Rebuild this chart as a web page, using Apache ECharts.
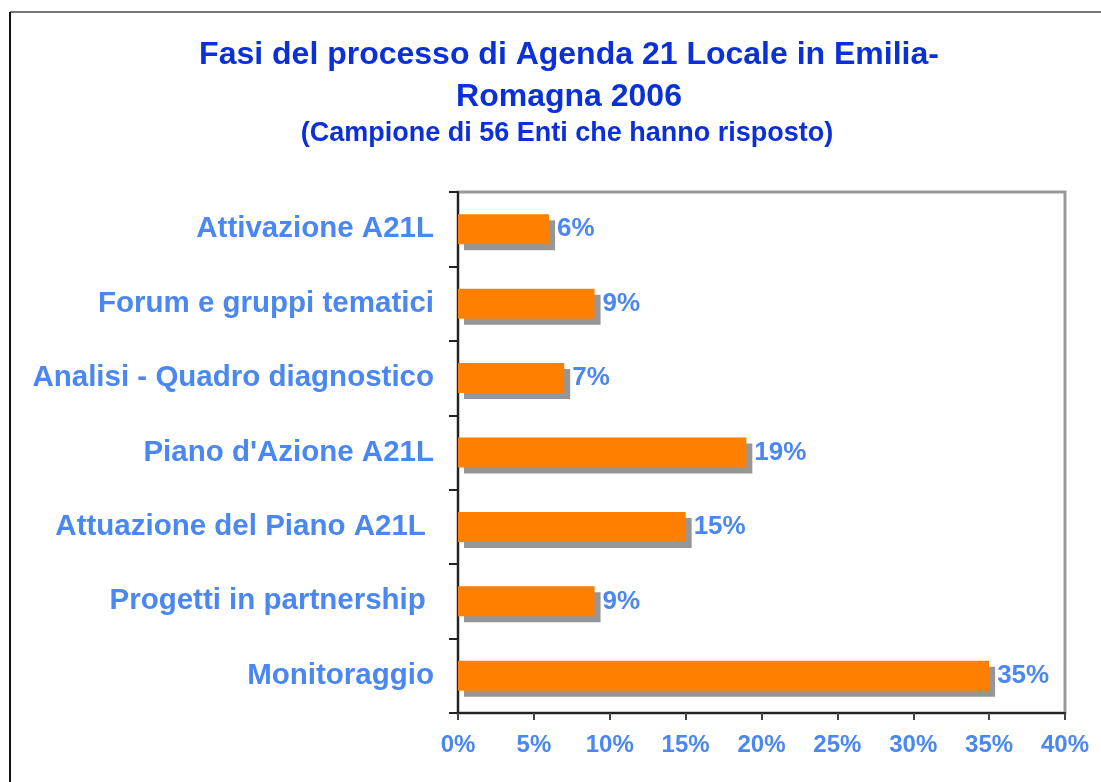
<!DOCTYPE html>
<html>
<head>
<meta charset="utf-8">
<title>Fasi del processo di Agenda 21 Locale</title>
<style>
  html, body { margin: 0; height: 100%; background: #fff; }
  #main { width: 1101px; height: 782px; }
</style>
</head>
<body>
<div id="main"></div>
<script src="https://cdn.jsdelivr.net/npm/echarts@6/dist/echarts.min.js"></script>
<script>
// dati
var fasi = ['Attivazione A21L', 'Forum e gruppi tematici', 'Analisi - Quadro diagnostico',
  "Piano d'Azione A21L", 'Attuazione del Piano A21L ', 'Progetti in partnership ', 'Monitoraggio'];
var percentuali = [6, 9, 7, 19, 15, 9, 35];
var xMax = 40;
var xStep = 5;

var blu = '#0B30D8';
var azzurro = '#4A87F2';
var font = '"Liberation Sans", Arial, sans-serif';

var myChart = echarts.init(document.getElementById('main'));

var option = {
  backgroundColor: '#fff',
  animation: false,
  title: [{
    text: 'Fasi del processo di Agenda 21 Locale in Emilia-\nRomagna 2006',
    left: 564,
    top: 29,
    textAlign: 'center',
    textStyle: { color: blu, fontFamily: font, fontWeight: 'bold', fontSize: 32, lineHeight: 42 }
  }, {
    text: '(Campione di 56 Enti che hanno risposto)',
    left: 562,
    top: 114,
    textAlign: 'center',
    textStyle: { color: blu, fontFamily: font, fontWeight: 'bold', fontSize: 27, lineHeight: 30 }
  }],
  graphic: [{
    type: 'line',
    shape: { x1: 10, y1: 12, x2: 1101, y2: 12 },
    style: { stroke: '#777', lineWidth: 2 }
  }, {
    type: 'line',
    shape: { x1: 10, y1: 12, x2: 10, y2: 782 },
    style: { stroke: '#111', lineWidth: 2 }
  }],
  grid: {
    left: 458,
    top: 192,
    right: 36,
    bottom: 69,
    show: true,
    borderColor: '#999',
    borderWidth: 3,
    containLabel: false
  },
  xAxis: {
    type: 'value',
    min: 0,
    max: xMax,
    interval: xStep,
    splitLine: { show: false },
    axisLine: { show: true, lineStyle: { color: '#222', width: 2 } },
    axisTick: { show: true, length: 7, lineStyle: { color: '#444', width: 2 } },
    axisLabel: {
      formatter: '{value}%',
      margin: 20,
      color: azzurro,
      fontFamily: font,
      fontWeight: 'bold',
      fontSize: 24
    }
  },
  yAxis: {
    type: 'category',
    data: fasi,
    inverse: true,
    axisLine: { show: true, lineStyle: { color: '#222', width: 2 } },
    axisTick: { show: true, length: 9, lineStyle: { color: '#222', width: 2 } },
    axisLabel: {
      margin: 24,
      color: azzurro,
      fontFamily: font,
      fontWeight: 'bold',
      fontSize: 29.5
    }
  },
  series: [{
    type: 'bar',
    data: percentuali,
    barWidth: 30,
    itemStyle: {
      color: '#FF7F00',
      shadowColor: '#969696',
      shadowBlur: 0,
      shadowOffsetX: 6,
      shadowOffsetY: 6
    },
    label: {
      show: true,
      position: 'right',
      distance: 8,
      formatter: '{c}%',
      color: azzurro,
      fontFamily: font,
      fontWeight: 'bold',
      fontSize: 26
    }
  }]
};

myChart.setOption(option);
</script>
</body>
</html>
